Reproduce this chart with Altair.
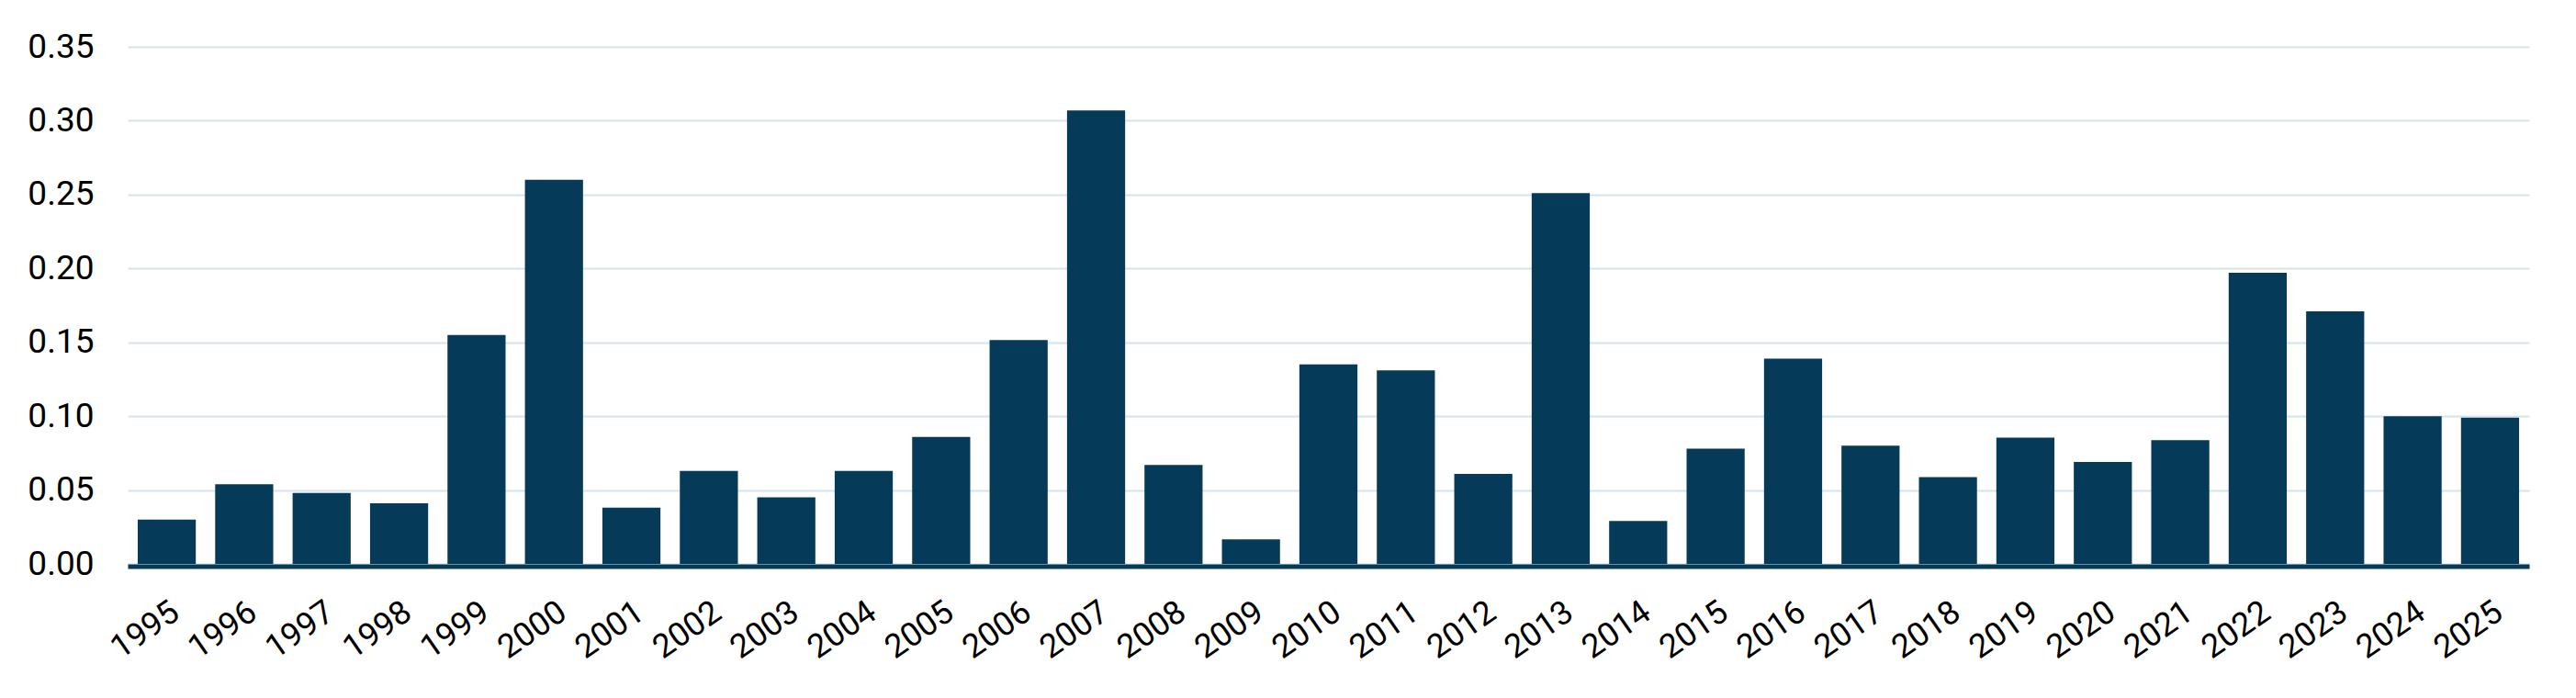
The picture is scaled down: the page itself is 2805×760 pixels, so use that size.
import altair as alt
import pandas as pd

years = ["1995", "1996", "1997", "1998", "1999", "2000", "2001", "2002", "2003", "2004",
         "2005", "2006", "2007", "2008", "2009", "2010", "2011", "2012", "2013", "2014",
         "2015", "2016", "2017", "2018", "2019", "2020", "2021", "2022", "2023", "2024", "2025"]
values = [0.030, 0.054, 0.048, 0.041, 0.155, 0.260, 0.038, 0.063, 0.045, 0.063,
          0.086, 0.1515, 0.307, 0.067, 0.0166, 0.135, 0.131, 0.061, 0.251, 0.029,
          0.078, 0.139, 0.080, 0.0587, 0.0855, 0.069, 0.0837, 0.197, 0.171, 0.100, 0.099]
y_ticks = [0.0, 0.05, 0.10, 0.15, 0.20, 0.25, 0.30, 0.35]

df = pd.DataFrame({"year": years, "value": values})

NAVY = "#053A58"

chart = alt.Chart(df).mark_bar(color=NAVY).encode(
    x=alt.X("year:N", sort=None, title=None,
            scale=alt.Scale(paddingInner=0.25, paddingOuter=0.13),
            axis=alt.Axis(labelAngle=-35, labelFont="Roboto", labelFontSize=36,
                          labelColor="#000000", labelPadding=32, ticks=False, tickSize=0,
                          domainColor=NAVY, domainWidth=5, offset=2.5, grid=False)),
    y=alt.Y("value:Q", title=None,
            scale=alt.Scale(domain=[0, 0.35], nice=False, zero=True),
            axis=alt.Axis(values=y_ticks, format=".2f", grid=True, gridColor="#D3E4EE",
                          gridWidth=2, domain=False, ticks=False, tickSize=0, labelPadding=37,
                          labelFont="Roboto", labelFontSize=37, labelColor="#000000")),
).properties(
    width=2615, height=563,
    autosize=alt.AutoSizeParams(type="none"),
    padding={"left": 131, "top": 43, "right": 40, "bottom": 138},
).configure_view(stroke=None)

chart.save("out.html", embed_options={"renderer": "svg", "actions": False})
